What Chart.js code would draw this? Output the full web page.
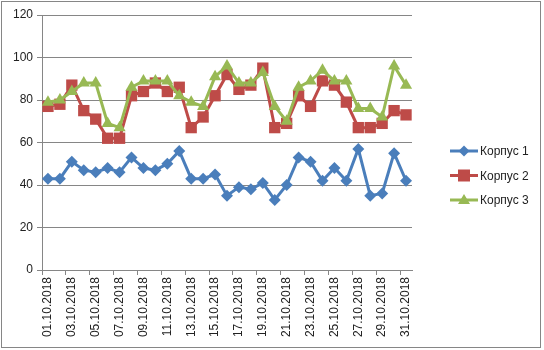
<!DOCTYPE html>
<html>
<head>
<meta charset="utf-8">
<script src="https://cdn.jsdelivr.net/npm/chart.js@4/dist/chart.umd.min.js"></script>
<style>
    body { margin: 0; background: #fff; }
    #wrap { width: 544px; height: 350px; position: relative; }
</style>
</head>
<body>
<div id="wrap"><canvas id="chart" width="544" height="350"></canvas></div>
<script>
// dates of October 2018
const dates = [
    '01.10.2018', '02.10.2018', '03.10.2018', '04.10.2018', '05.10.2018', '06.10.2018', '07.10.2018', '08.10.2018',
    '09.10.2018', '10.10.2018', '11.10.2018', '12.10.2018', '13.10.2018', '14.10.2018', '15.10.2018', '16.10.2018',
    '17.10.2018', '18.10.2018', '19.10.2018', '20.10.2018', '21.10.2018', '22.10.2018', '23.10.2018', '24.10.2018',
    '25.10.2018', '26.10.2018', '27.10.2018', '28.10.2018', '29.10.2018', '30.10.2018', '31.10.2018'
];

const korpus1 = [43, 43, 51, 47, 46, 48, 46, 53, 48, 47, 50, 56, 43, 43, 45, 35, 39, 38, 41, 33, 40, 53, 51, 42, 48, 42, 57, 35, 36, 55, 42];
const korpus2 = [77, 78, 87, 75, 71, 62, 62, 82, 84, 88, 84, 86, 67, 72, 82, 92, 85, 87, 95, 67, 69, 82, 77, 89, 87, 79, 67, 67, 69, 75, 73];
const korpus3 = [79, 80, 84, 88, 88, 69, 67, 86, 89, 89, 89, 82, 79, 77, 91, 96, 88, 88, 93, 77, 70, 86, 89, 94, 89, 89, 76, 76, 72, 96, 87];

const seriesNames = ['Корпус 1', 'Корпус 2', 'Корпус 3'];
const yTicks = [0, 20, 40, 60, 80, 100, 120];

const fontFamily = '"Liberation Sans", Arial, sans-serif';
const gridColor = '#868686';

// frame around the whole chart + legend with line and marker
const decorPlugin = {
    id: 'decor',
    afterDraw(chart) {
        const ctx = chart.ctx;
        ctx.save();
        ctx.strokeStyle = gridColor;
        ctx.lineWidth = 1;
        ctx.strokeRect(1.5, 1.5, 539, 346);

        chart.data.datasets.forEach((ds, i) => {
            const y = 151 + i * 24.5;
            ctx.strokeStyle = ds.borderColor;
            ctx.lineWidth = 3;
            ctx.beginPath();
            ctx.moveTo(450, y);
            ctx.lineTo(478, y);
            ctx.stroke();
            ctx.fillStyle = ds.backgroundColor;
            ctx.beginPath();
            if (ds.pointStyle === 'rectRot') {
                const r = 5.5;
                ctx.moveTo(464, y - r); ctx.lineTo(464 + r, y); ctx.lineTo(464, y + r); ctx.lineTo(464 - r, y);
            } else if (ds.pointStyle === 'rect') {
                ctx.rect(458, y - 6, 12, 12);
            } else {
                ctx.moveTo(464, y - 6); ctx.lineTo(470, y + 4); ctx.lineTo(458, y + 4);
            }
            ctx.closePath();
            ctx.fill();
            ctx.fillStyle = '#222';
            ctx.font = '12px ' + fontFamily;
            ctx.textBaseline = 'middle';
            ctx.textAlign = 'left';
            ctx.fillText(ds.label, 480, y + 1);
        });
        ctx.restore();
    }
};

new Chart(document.getElementById('chart'), {
    type: 'line',
    data: {
        labels: dates,
        datasets: [
            {
                label: seriesNames[0], data: korpus1, order: 3,
                borderColor: '#4A7EBB', backgroundColor: '#4A7EBB', borderWidth: 3,
                pointStyle: 'rectRot', pointRadius: 6, pointBorderWidth: 0, tension: 0
            },
            {
                label: seriesNames[1], data: korpus2, order: 2,
                borderColor: '#BE4B48', backgroundColor: '#BE4B48', borderWidth: 3,
                pointStyle: 'rect', pointRadius: 8, pointBorderWidth: 0, tension: 0
            },
            {
                label: seriesNames[2], data: korpus3, order: 1,
                borderColor: '#98B954', backgroundColor: '#98B954', borderWidth: 3,
                pointStyle: 'triangle', pointRadius: 7, pointBorderWidth: 0, tension: 0
            }
        ]
    },
    options: {
        responsive: false,
        animation: false,
        devicePixelRatio: 1,
        layout: { padding: { left: 0, right: 132, top: 15, bottom: 0 } },
        plugins: {
            legend: { display: false },
            tooltip: { enabled: false }
        },
        scales: {
            x: {
                offset: true,
                afterFit: scale => { scale.height = 80; },
                grid: {
                    offset: true,
                    drawOnChartArea: false,
                    tickLength: 5,
                    color: c => (c.index % 2 === 0 ? gridColor : 'rgba(0,0,0,0)')
                },
                border: { color: gridColor },
                ticks: {
                    autoSkip: false,
                    maxRotation: 90,
                    minRotation: 90,
                    padding: 2,
                    color: '#222',
                    font: { family: fontFamily, size: 12 },
                    callback: (v, i) => (i % 2 === 0 ? dates[i] : '')
                }
            },
            y: {
                min: 0,
                max: 120,
                afterFit: scale => { scale.width = 42; },
                afterBuildTicks: scale => { scale.ticks = yTicks.map(v => ({ value: v })); },
                grid: { color: gridColor, tickLength: 5 },
                border: { color: gridColor },
                ticks: {
                    padding: 4,
                    color: '#222',
                    font: { family: fontFamily, size: 12 }
                }
            }
        }
    },
    plugins: [decorPlugin]
});
</script>
</body>
</html>
